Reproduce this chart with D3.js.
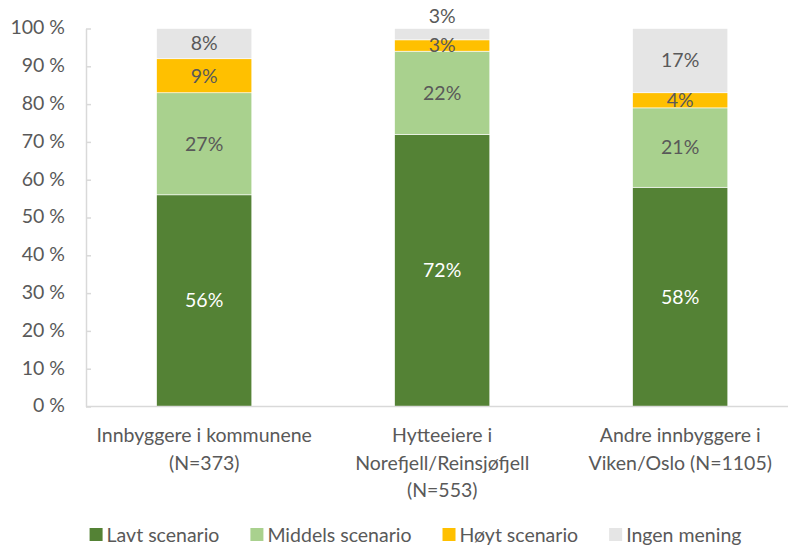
<!DOCTYPE html>
<html>
<head>
<meta charset="utf-8">
<script src="https://cdn.jsdelivr.net/npm/d3@7"></script>
<style>
  html, body { margin: 0; padding: 0; background: #fff; }
  svg { display: block; font-family: Lato, "Open Sans", sans-serif; }
</style>
</head>
<body>
<svg id="chart" width="788" height="546"></svg>
<script>
// Respondent groups (each label line drawn on its own row)
const categories = ["Innbyggere", "Hytteeiere", "Andre"];
const categoryLines = [
  ["Innbyggere i kommunene", "(N=373)"],
  ["Hytteeiere i", "Norefjell/Reinsjøfjell", "(N=553)"],
  ["Andre innbyggere i", "Viken/Oslo (N=1105)"]
];

// Share of answers per scenario, percent
const seriesNames = ["Lavt scenario", "Middels scenario", "Høyt scenario", "Ingen mening"];
const lavt    = [56, 72, 58];
const middels = [27, 22, 21];
const hoyt    = [9, 3, 4];
const ingen   = [8, 3, 17];
const seriesColors = ["#548235", "#A9D18E", "#FFC000", "#E5E5E5"];
const labelColors  = ["#FFFFFF", "#595959", "#595959", "#595959"];

const yTicks = [0, 10, 20, 30, 40, 50, 60, 70, 80, 90, 100];

const rows = categories.map((c, i) => ({
  cat: c,
  "Lavt scenario": lavt[i],
  "Middels scenario": middels[i],
  "Høyt scenario": hoyt[i],
  "Ingen mening": ingen[i]
}));

const svg = d3.select("#chart");
const FONT = 19.5;
const TEXT = "#595959";
const AXIS = "#D9D9D9";

const x = d3.scaleBand()
  .domain(categories)
  .range([85.2, 799.2])
  .paddingInner(0.6)
  .paddingOuter(0.3);

const y = d3.scaleLinear().domain([0, 100]).range([406.5, 28.5]);

const stack = d3.stack().keys(seriesNames)(rows);

// Stacked bars
const layers = svg.append("g").selectAll("g")
  .data(stack)
  .join("g")
  .attr("fill", (d, i) => seriesColors[i]);

layers.selectAll("rect")
  .data(d => d)
  .join("rect")
  .attr("x", d => x(d.data.cat))
  .attr("width", x.bandwidth())
  .attr("y", d => y(d[1]))
  .attr("height", d => y(d[0]) - y(d[1]))
  .attr("stroke", "#fff")
  .attr("stroke-width", 0.6);

// Y axis: ticks point inward, labels to the left
const yAxis = svg.append("g")
  .attr("transform", "translate(86,0)")
  .call(d3.axisLeft(y).tickValues(yTicks).tickSize(-5).tickSizeOuter(0)
    .tickPadding(21).tickFormat(d => d + " %"));
yAxis.select(".domain").attr("stroke", AXIS).attr("stroke-width", 1.5);
yAxis.selectAll(".tick line").attr("stroke", AXIS).attr("stroke-width", 1.5);
yAxis.selectAll(".tick text")
  .attr("fill", TEXT)
  .attr("dy", "0.28em")
  .style("font-size", FONT + "px")
  .style("font-family", "Lato, 'Open Sans', sans-serif");

// X axis baseline
const xAxis = svg.append("g")
  .attr("transform", `translate(0,${y(0)})`)
  .call(d3.axisBottom(x).tickSize(0).tickFormat(""));
xAxis.select(".domain").attr("stroke", AXIS).attr("stroke-width", 1.5)
  .attr("d", `M86,0H799`);

// Category labels, multi-line
const catLabels = svg.append("g");
categories.forEach((c, i) => {
  const t = catLabels.append("text")
    .attr("x", x(c) + x.bandwidth() / 2)
    .attr("y", 442)
    .attr("text-anchor", "middle")
    .attr("fill", TEXT)
    .style("font-size", FONT + "px");
  categoryLines[i].forEach((line, j) => {
    t.append("tspan")
      .attr("x", x(c) + x.bandwidth() / 2)
      .attr("dy", j === 0 ? 0 : 27.5)
      .text(line);
  });
});

// Data labels; a segment too thin for its text at the top of the bar gets its label above the bar
const labels = svg.append("g");
stack.forEach((layer, si) => {
  layer.forEach(d => {
    const v = d[1] - d[0];
    const h = y(d[0]) - y(d[1]);
    const isTop = si === stack.length - 1;
    let cy = (y(d[0]) + y(d[1])) / 2;
    if (isTop && h < 14) cy = y(d[1]) - 12;
    labels.append("text")
      .attr("x", x(d.data.cat) + x.bandwidth() / 2)
      .attr("y", cy)
      .attr("dy", "0.35em")
      .attr("text-anchor", "middle")
      .attr("fill", labelColors[si])
      .style("font-size", FONT + "px")
      .text(v + "%");
  });
});

// Legend, centred under the plot
const legend = svg.append("g");
const items = seriesNames.map((name, i) => {
  const g = legend.append("g");
  g.append("rect").attr("width", 13).attr("height", 13)
    .attr("y", 528).attr("fill", seriesColors[i]);
  const t = g.append("text").attr("x", 17).attr("y", 535).attr("dy", "0.35em")
    .attr("fill", TEXT).style("font-size", FONT + "px").text(name);
  return { g, w: 17 + t.node().getComputedTextLength() };
});
const gap = 31;
const total = d3.sum(items, d => d.w) + gap * (items.length - 1);
let cx = 415.5 - total / 2;
items.forEach(it => {
  it.g.attr("transform", `translate(${cx},0)`);
  cx += it.w + gap;
});
</script>
</body>
</html>
